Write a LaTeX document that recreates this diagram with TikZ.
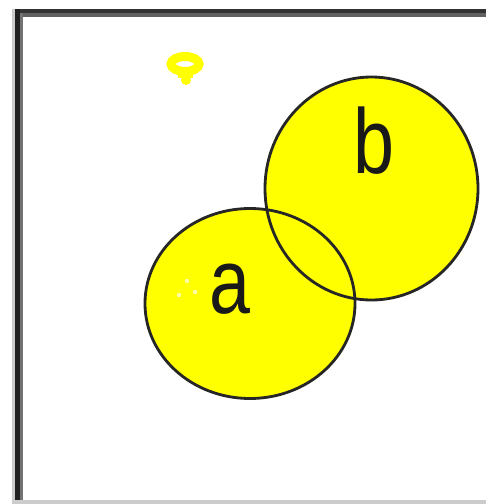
\documentclass[tikz,border=0pt]{standalone}
\usepackage{fontspec}
\setmainfont{Liberation Sans}
\definecolor{yel}{RGB}{255,255,0}
\definecolor{paleyel}{RGB}{255,255,170}
\begin{document}
\begin{tikzpicture}[x=1pt,y=-1pt,
  ring/.style={draw=black!85,line width=2.8pt},
  lbl/.style={inner sep=0pt,anchor=base,font=\fontsize{92}{92}\selectfont,text=black!90}]
\useasboundingbox (0,0) rectangle (486,504);
\fill[white] (0,0) rectangle (486,504);
% frame
\fill[black!20] (12,9) rectangle (15,504);
\fill[black!80] (15,9) rectangle (486,13);
\fill[black!62] (20,13) rectangle (486,17);
\fill[black!87] (15,9) rectangle (20,504);
\fill[black!55] (20,13) rectangle (23,504);
\fill[black!20] (12,500) rectangle (486,504);
% small yellow mark
\draw[yel,line width=9pt] (185,64) ellipse (14 and 7.5);
\fill[yel] (178,68) rectangle (193,78);
\fill[yel] (186,80) circle (5);
% circles
\fill[yel] (250,303.5) ellipse (105 and 95);
\fill[yel] (371.5,188.5) ellipse (106.5 and 111.5);
\draw[ring] (250,303.5) ellipse (105 and 95);
\draw[ring] (371.5,188.5) ellipse (106.5 and 111.5);
% faint specks
\fill[paleyel] (187,281) circle (2.2);
\fill[paleyel] (195,292) circle (2.2);
\fill[paleyel] (179,295) circle (2.2);
% labels
\node[lbl] (la) at (230,313) {\scalebox{0.8}[1]{a}};
\node[lbl] (lb) at (374,173) {\scalebox{0.8}[1]{b}};
\end{tikzpicture}
\end{document}
